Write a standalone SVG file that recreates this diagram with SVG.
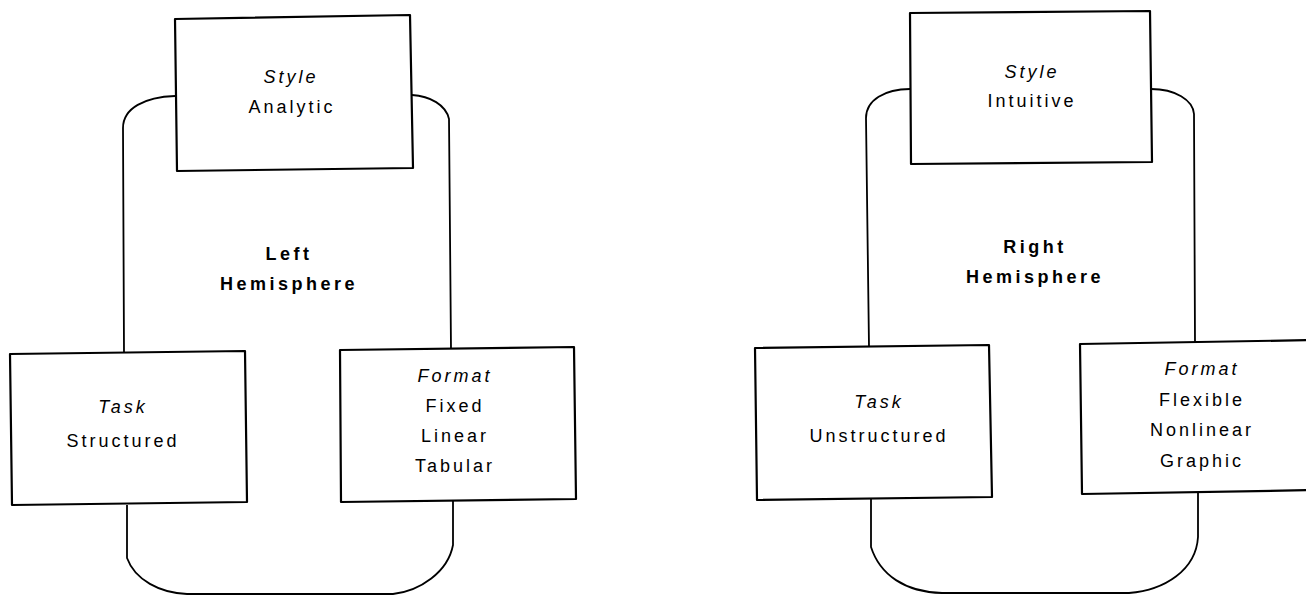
<svg xmlns="http://www.w3.org/2000/svg" width="1306" height="596" viewBox="0 0 1306 596">
<style>
.box{fill:#fff;stroke:#000;stroke-width:2.2;stroke-linejoin:round}
.con{fill:none;stroke:#000;stroke-width:1.8}
text{font-family:"Liberation Sans",Arial,sans-serif;font-size:18px;fill:#000;text-anchor:middle;letter-spacing:3px}
.it{font-style:italic}
.b{font-weight:bold;letter-spacing:3.5px}
</style>
<rect width="1306" height="596" fill="#fff"/>
<g id="connectors">
<path class="con" d="M175,96 C145,97 123,108 123,128 L124,353"/>
<path class="con" d="M412,95 C430,96 446,105 449,119 L451,349"/>
<path class="con" d="M127,505 L127,558 C135,580 160,593 187,594 L393,594 C420,591 448,572 453,545 L453,501"/>
<path class="con" d="M910,89 C885,89 866,100 866,118 L869,347"/>
<path class="con" d="M1151,89 C1175,89 1193,100 1194,114 L1195,342"/>
<path class="con" d="M871,499 L871,547 C880,575 905,592 942,593 L1129,593 C1165,590 1196,570 1198,537 L1198,493"/>
</g>
<g id="left-label">
<text class="b" x="289" y="260">Left</text>
<text class="b" x="289" y="290">Hemisphere</text>
</g>
<g id="left-style">
<polygon class="box" points="175,19 410,15 413,168 177,171"/>
<text class="it" x="291" y="83">Style</text>
<text x="292" y="113">Analytic</text>
</g>
<g id="left-task">
<polygon class="box" points="10,354 245,351 247,502 12,505"/>
<text class="it" x="123" y="413">Task</text>
<text x="123" y="447">Structured</text>
</g>
<g id="left-format">
<polygon class="box" points="340,350 574,347 576,499 341,502"/>
<text class="it" x="455" y="382">Format</text>
<text x="455" y="412">Fixed</text>
<text x="455" y="442">Linear</text>
<text x="455" y="472">Tabular</text>
</g>
<g id="right-label">
<text class="b" x="1035" y="253">Right</text>
<text class="b" x="1035" y="283">Hemisphere</text>
</g>
<g id="right-style">
<polygon class="box" points="910,13 1150,11 1152,162 911,164"/>
<text class="it" x="1032" y="78">Style</text>
<text x="1032" y="107">Intuitive</text>
</g>
<g id="right-task">
<polygon class="box" points="755,348 989,345 992,497 757,500"/>
<text class="it" x="879" y="408">Task</text>
<text x="879" y="442">Unstructured</text>
</g>
<g id="right-format">
<polygon class="box" points="1080,344 1318,340 1318,490 1082,494"/>
<text class="it" x="1202" y="375">Format</text>
<text x="1202" y="406">Flexible</text>
<text x="1202" y="436">Nonlinear</text>
<text x="1202" y="467">Graphic</text>
</g>
</svg>
